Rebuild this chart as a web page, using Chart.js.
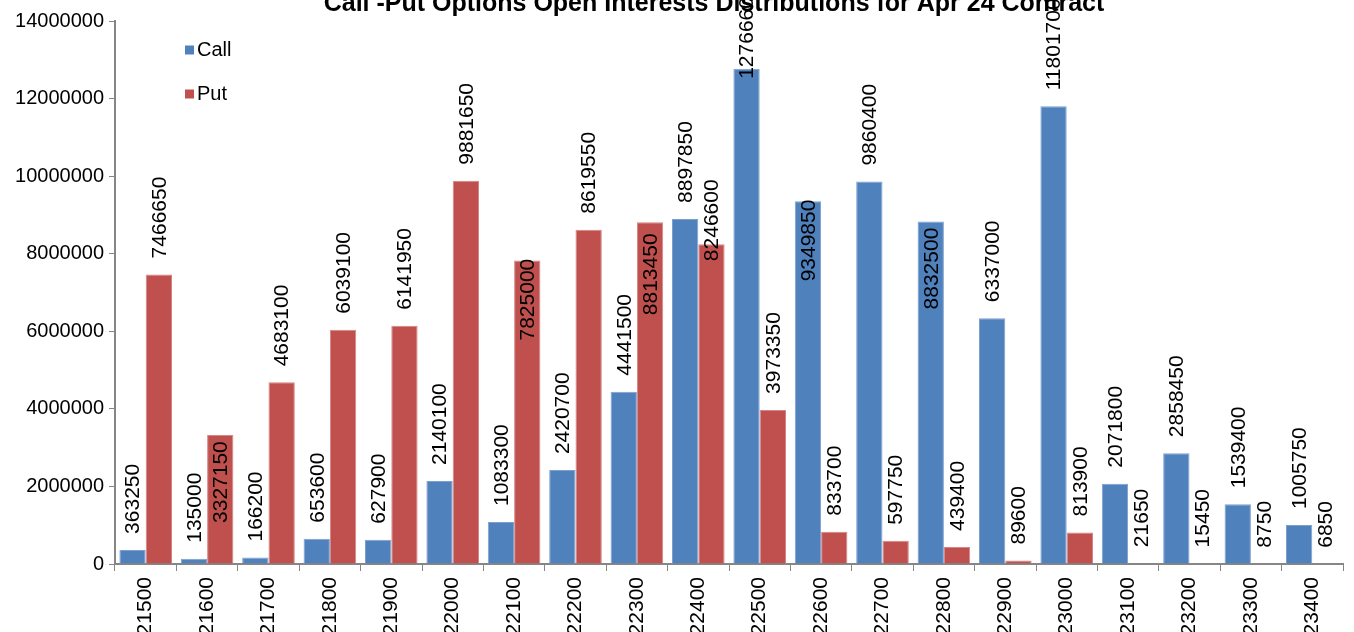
<!DOCTYPE html>
<html>
<head>
<meta charset="utf-8">
<script src="https://cdn.jsdelivr.net/npm/chart.js@4.4.1/dist/chart.umd.min.js"></script>
<style>
  html, body { margin: 0; padding: 0; background: #fff; }
  canvas { display: block; }
</style>
</head>
<body>
<canvas id="oiChart" width="1354" height="632"></canvas>
<script>
/* data */
const strikes = ['21500','21600','21700','21800','21900','22000','22100','22200','22300','22400',
                 '22500','22600','22700','22800','22900','23000','23100','23200','23300','23400'];
const callOI = [363250, 135000, 166200, 653600, 627900, 2140100, 1083300, 2420700, 4441500, 8897850,
                12766600, 9349850, 9860400, 8832500, 6337000, 11801700, 2071800, 2858450, 1539400, 1005750];
const putOI  = [7466650, 3327150, 4683100, 6039100, 6141950, 9881650, 7825000, 8619550, 8813450, 8246600,
                3973350, 833700, 597750, 439400, 89600, 813900, 21650, 15450, 8750, 6850];
const yTicks = [0, 2000000, 4000000, 6000000, 8000000, 10000000, 12000000, 14000000];
const chartTitle = 'Call -Put Options Open Interests Distributions for Apr 24 Contract';

const SANS = '"Liberation Sans", Arial, sans-serif';

// label start offset from bar top (px, + is down); default sits 16px above the bar
const labelShift = { '0:10': 10, '0:11': 80, '0:13': 88, '1:1': 88, '1:6': 80, '1:8': 93, '1:9': 17 };

/* ── PLUGINS ── */
const barLabels = {
  id: 'barLabels',
  afterDatasetsDraw(chart) {
    const ctx = chart.ctx;
    ctx.save();
    ctx.font = '21px ' + SANS;
    ctx.fillStyle = '#000';
    ctx.textAlign = 'left';
    ctx.textBaseline = 'middle';
    chart.data.datasets.forEach((ds, di) => {
      chart.getDatasetMeta(di).data.forEach((bar, i) => {
        const key = di + ':' + i;
        const shift = key in labelShift ? labelShift[key] : -16;
        ctx.save();
        ctx.translate(bar.x + 1, bar.y + shift);
        ctx.rotate(-Math.PI / 2);
        ctx.fillText(String(ds.data[i]), 0, 0);
        ctx.restore();
      });
    });
    ctx.restore();
  }
};

const decor = {
  id: 'decor',
  afterDraw(chart) {
    const ctx = chart.ctx;
    ctx.save();
    // title, cut at the top like the source
    ctx.font = 'bold 25px ' + SANS;
    ctx.fillStyle = '#000';
    ctx.textAlign = 'center';
    ctx.textBaseline = 'alphabetic';
    ctx.fillText(chartTitle, 714, 11);

    // legend inside plot, top-left
    ctx.font = '20px ' + SANS;
    ctx.textAlign = 'left';
    ctx.textBaseline = 'middle';
    chart.data.datasets.forEach((ds, i) => {
      const y = 50 + i * 44;
      ctx.fillStyle = ds.backgroundColor;
      ctx.fillRect(185, y - 4.5, 9, 9);
      ctx.fillStyle = '#000';
      ctx.fillText(ds.label, 197, y);
    });
    ctx.restore();
  }
};

/* ── CHART ── */
new Chart(document.getElementById('oiChart').getContext('2d'), {
  type: 'bar',
  data: {
    labels: strikes,
    datasets: [
      { label: 'Call', data: callOI, backgroundColor: '#4F81BD', borderColor: '#7BA0CD', borderWidth: 1,
        categoryPercentage: 0.857, barPercentage: 1 },
      { label: 'Put', data: putOI, backgroundColor: '#C0504D', borderColor: '#D58583', borderWidth: 1,
        categoryPercentage: 0.857, barPercentage: 1 }
    ]
  },
  options: {
    responsive: false,
    animation: false,
    layout: { padding: { top: 21, right: 11, left: 0, bottom: 0 } },
    plugins: { legend: { display: false }, title: { display: false }, tooltip: { enabled: false } },
    scales: {
      x: {
        afterFit: s => { s.height = 68; },
        grid: { display: true, drawOnChartArea: false, tickLength: 7, color: '#868686', offset: true },
        border: { color: '#868686', width: 2 },
        ticks: { minRotation: 90, maxRotation: 90, padding: 6, color: '#000',
                 font: { family: SANS, size: 21 } }
      },
      y: {
        min: 0,
        max: yTicks[yTicks.length - 1],
        afterFit: s => { s.width = 115; },
        afterBuildTicks: s => { s.ticks = yTicks.map(v => ({ value: v })); },
        grid: { display: true, drawOnChartArea: false, tickLength: 6, color: '#868686' },
        border: { color: '#868686', width: 2 },
        ticks: { padding: 5, color: '#000', callback: v => String(v),
                 font: { family: SANS, size: 20 } }
      }
    }
  },
  plugins: [barLabels, decor]
});
</script>
</body>
</html>
